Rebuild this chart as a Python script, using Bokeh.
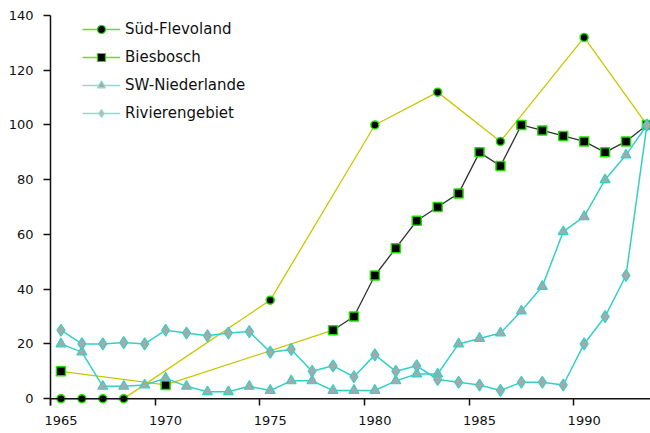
from bokeh.plotting import figure
from bokeh.models import (Range1d, FixedTicker, Legend, LegendItem, ColumnDataSource,
                          LinearAxis, Span)
from bokeh.embed import file_html
from bokeh.resources import INLINE

# ---- data ----
year_ticks = [1965, 1970, 1975, 1980, 1985, 1990]
y_ticks = [0, 20, 40, 60, 80, 100, 120, 140]

sf_years = [1965, 1966, 1967, 1968, 1975, 1980, 1983, 1986, 1990, 1993]
sf_vals = [0, 0, 0, 0, 36, 100, 112, 94, 132, 100]

bb_years = [1965, 1970, 1978, 1979, 1980, 1981, 1982, 1983, 1984, 1985,
            1986, 1987, 1988, 1989, 1990, 1991, 1992, 1993]
bb_vals = [10, 5, 25, 30, 45, 55, 65, 70, 75, 90, 85, 100, 98, 96, 94, 90, 94, 100]

all_years = [1965, 1966, 1967, 1968, 1969, 1970, 1971, 1972, 1973, 1974,
             1975, 1976, 1977, 1978, 1979, 1980, 1981, 1982, 1983, 1984,
             1985, 1986, 1987, 1988, 1989, 1990, 1991, 1992, 1993]
sw_vals = [20, 17, 4.5, 4.5, 5, 7.5, 4.5, 2.5, 2.5, 4.5,
           3, 6.5, 6.5, 3, 3, 3, 6.5, 9, 9, 20,
           22, 24, 32, 41, 61, 66.5, 80, 89, 100]
rv_vals = [25, 20, 20, 20.5, 20, 25, 24, 23, 24, 24.5,
           17, 18, 10, 12, 8, 16, 10, 12, 7, 6,
           5, 3, 6, 6, 5, 20, 30, 45, 100]

names = ["Süd-Flevoland", "Biesbosch", "SW-Niederlande", "Rivierengebiet"]

# ---- styles ----
YELLOW = "#c8c800"
DARK = "#333333"
TEAL = "#33d0c8"
GREEN = "#22dd00"
GRAY = "#a8a8a8"
AX = "#111111"
FONT = "DejaVu Sans"

p = figure(width=650, height=432, output_backend="svg", toolbar_location=None,
           x_range=Range1d(1964.5, 1993.17), y_range=Range1d(-2.5, 140),
           min_border_left=50, min_border_right=0, min_border_top=15,
           min_border_bottom=27, x_axis_location=None, y_axis_location=None)
p.outline_line_color = None
p.grid.visible = False
p.background_fill_color = "white"

# x axis: labels at category centres, tick marks at category boundaries
xax = LinearAxis()
xax.ticker = FixedTicker(ticks=year_ticks, minor_ticks=[t - 0.5 for t in year_ticks])
xax.axis_line_color = None
xax.major_tick_out = 0
xax.major_tick_in = 0
xax.minor_tick_out = 0
xax.minor_tick_in = 7
xax.minor_tick_line_color = AX
xax.minor_tick_line_width = 1.5
xax.major_label_text_font = FONT
xax.major_label_text_font_size = "13px"
xax.major_label_text_color = AX
xax.major_label_standoff = 10
p.add_layout(xax, "below")

# the baseline at value 0
p.add_layout(Span(location=0, dimension="width", line_color=AX, line_width=1.5))

yax = LinearAxis()
yax.ticker = FixedTicker(ticks=y_ticks)
yax.major_tick_out = 7
yax.major_tick_in = 0
yax.minor_tick_out = 0
yax.minor_tick_in = 0
yax.major_tick_line_color = AX
yax.major_tick_line_width = 1.5
yax.axis_line_color = AX
yax.axis_line_width = 1.5
yax.major_label_text_font = FONT
yax.major_label_text_font_size = "13px"
yax.major_label_text_color = AX
yax.major_label_standoff = 10
p.add_layout(yax, "left")

# ---- series ----
sf = ColumnDataSource(dict(x=sf_years, y=sf_vals))
bb = ColumnDataSource(dict(x=bb_years, y=bb_vals))
bb_a = ColumnDataSource(dict(x=bb_years[:3], y=bb_vals[:3]))
bb_b = ColumnDataSource(dict(x=bb_years[2:], y=bb_vals[2:]))
sw = ColumnDataSource(dict(x=all_years, y=sw_vals))
rv = ColumnDataSource(dict(x=all_years, y=rv_vals))

p.line("x", "y", source=sf, line_color=YELLOW, line_width=1.3)
p.scatter("x", "y", source=sf, marker="circle", size=8, fill_color="black",
          line_color=GREEN, line_width=1.5)

p.line("x", "y", source=bb_a, line_color=YELLOW, line_width=1.3)
p.line("x", "y", source=bb_b, line_color=DARK, line_width=1.3)
p.scatter("x", "y", source=bb, marker="square", size=9, fill_color="black",
          line_color=GREEN, line_width=1.5)

p.line("x", "y", source=sw, line_color=TEAL, line_width=1.5)
p.scatter("x", "y", source=sw, marker="triangle", size=10, fill_color=GRAY,
          line_color=TEAL, line_width=1.2)

p.line("x", "y", source=rv, line_color=TEAL, line_width=1.5)
p.scatter("x", "y", source=rv, marker="diamond", size=12, fill_color=GRAY,
          line_color=TEAL, line_width=1.2)

# ---- legend (sample renderers whose single point is NaN, so nothing is drawn) ----
LEG_GREEN = "#7ed321"
LEG_TEAL = "#8edccc"
items = []
specs = [(LEG_GREEN, "circle", "black", GREEN, 7),
         (LEG_GREEN, "square", "black", GREEN, 7),
         (LEG_TEAL, "triangle", GRAY, LEG_TEAL, 9),
         (LEG_TEAL, "diamond", "#b8b8b8", LEG_TEAL, 9)]
for name, (lc, mk, fc, oc, sz) in zip(names, specs):
    src = ColumnDataSource(dict(x=[float("nan")], y=[float("nan")]))
    r1 = p.line("x", "y", source=src, line_color=lc, line_width=1.5)
    r2 = p.scatter("x", "y", source=src, marker=mk, size=sz, fill_color=fc,
                   line_color=oc, line_width=1.2)
    items.append(LegendItem(label=name, renderers=[r1, r2]))

legend = Legend(items=items, location=(32, 282), orientation="vertical",
                glyph_width=38, glyph_height=20, spacing=8, padding=0, margin=0,
                label_standoff=5, label_text_font=FONT, label_text_font_size="15px",
                label_text_color=AX, border_line_color=None,
                background_fill_alpha=0)
p.add_layout(legend, "center")

open("out.html", "w").write(file_html(p, INLINE))
